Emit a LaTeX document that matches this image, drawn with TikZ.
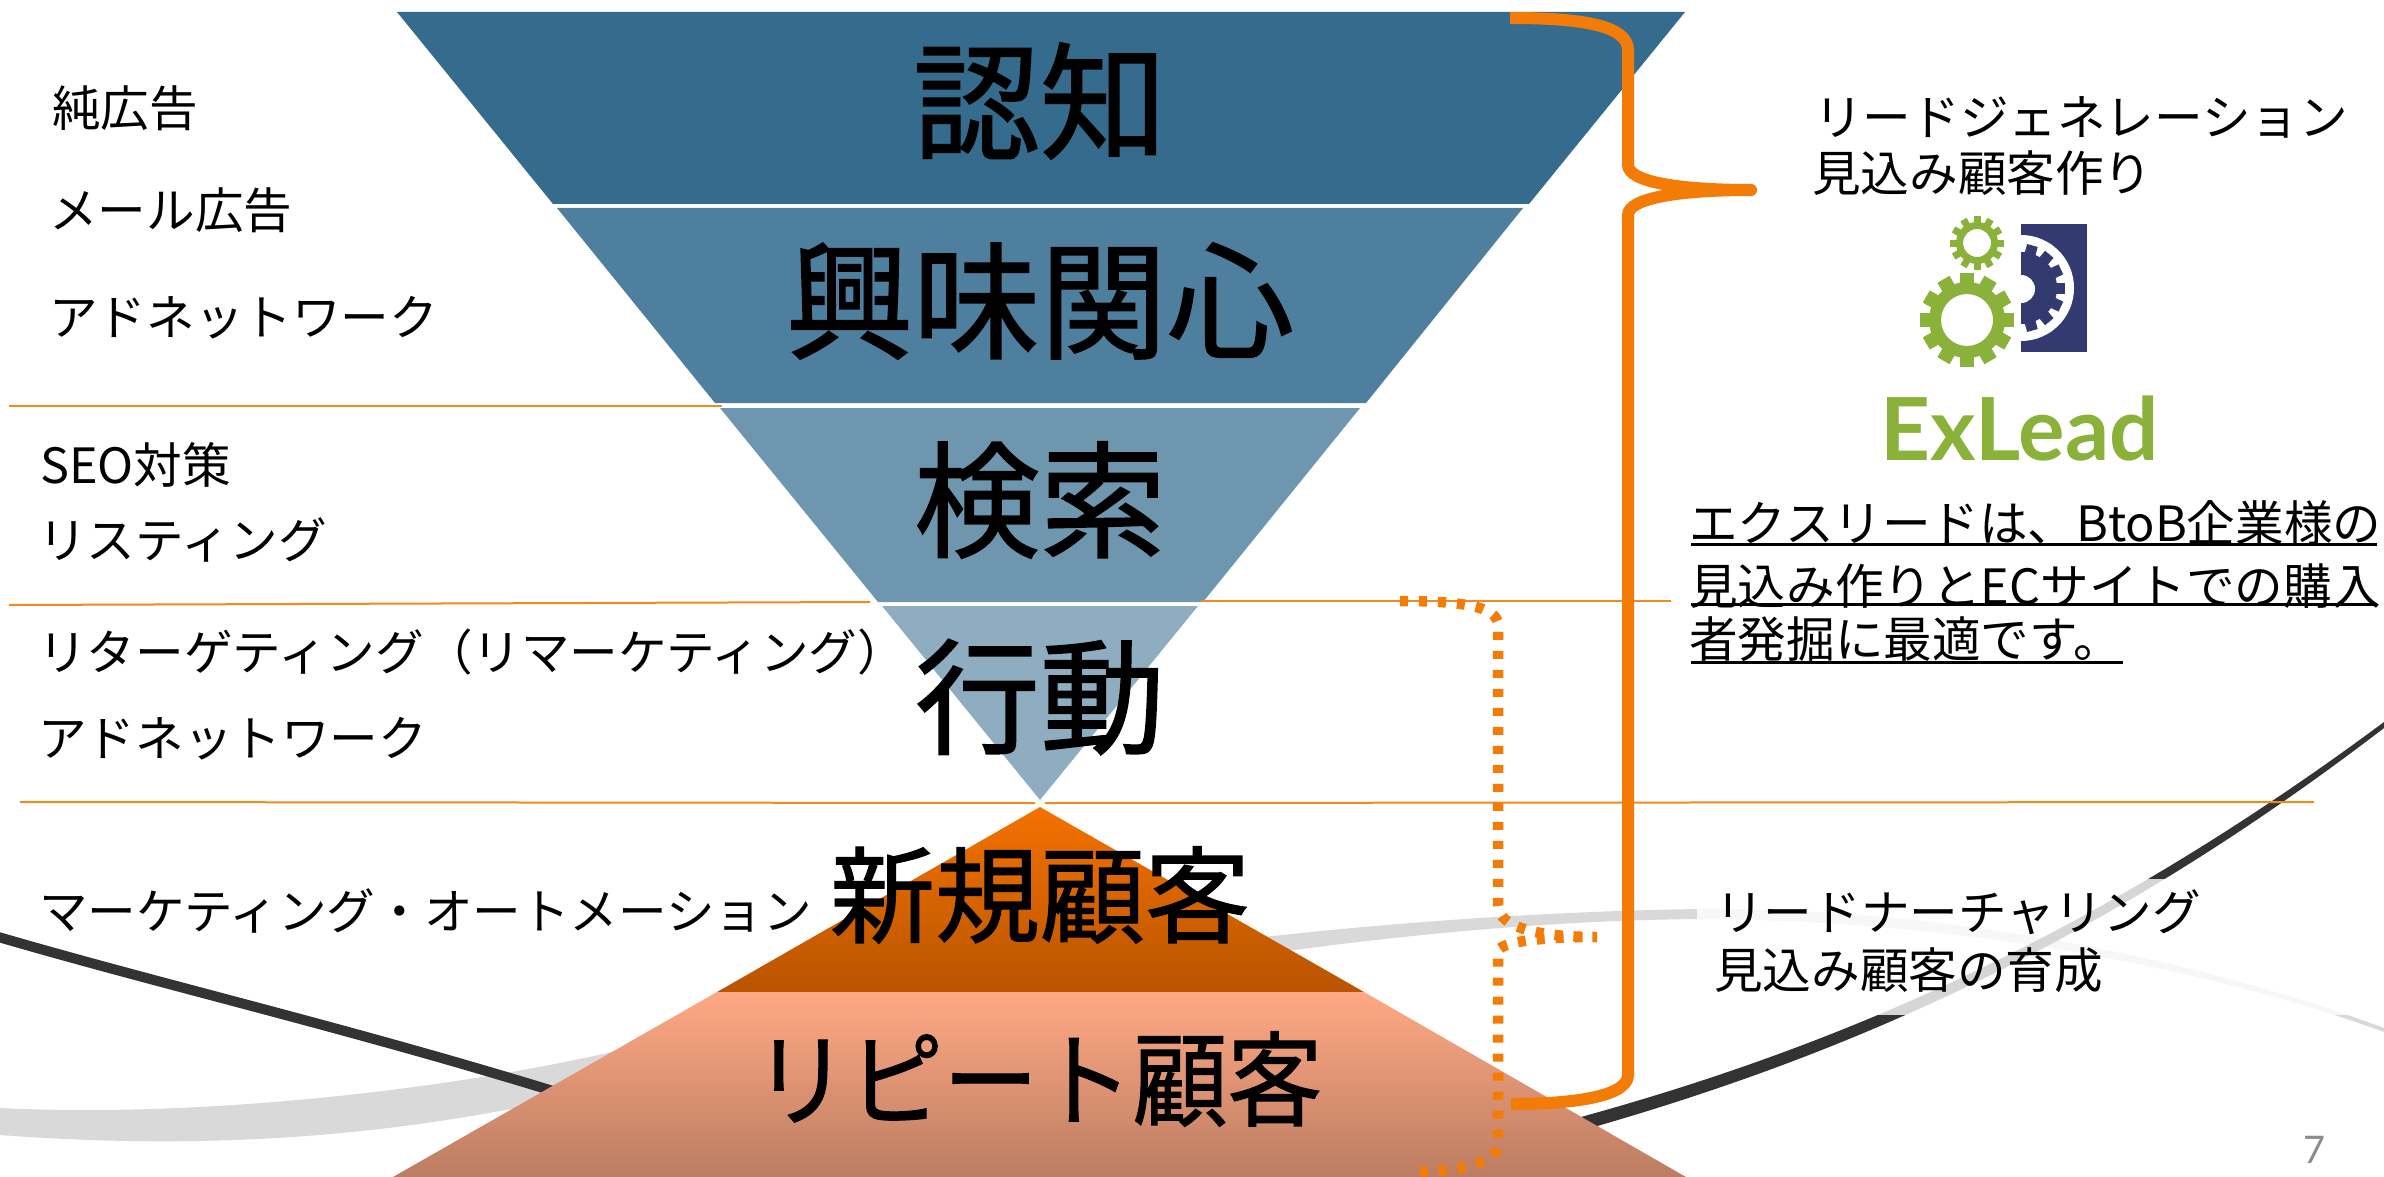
\documentclass[tikz,border=0pt]{standalone}
\usepackage{fontspec}
\setmainfont{Noto Sans CJK JP}
\newfontfamily\latfont{Lato}
\newfontfamily\titlefont[FakeBold=1.2]{Noto Sans CJK JP}
\definecolor{band1}{HTML}{356B8C}
\definecolor{band2}{HTML}{4F7F9E}
\definecolor{band3}{HTML}{6E96AF}
\definecolor{band4}{HTML}{8FADC1}
\definecolor{orline}{HTML}{F28A1E}
\definecolor{orbrace}{HTML}{F27C05}
\definecolor{pyrtop}{HTML}{F37200}
\definecolor{pyrmid}{HTML}{C75C00}
\definecolor{pyrbot}{HTML}{B95400}
\definecolor{trtop}{HTML}{FFA984}
\definecolor{trbot}{HTML}{BC7D62}
\definecolor{logogreen}{HTML}{8AB13A}
\definecolor{logonavy}{HTML}{333A70}
\definecolor{swdark}{HTML}{333333}
\definecolor{swlight}{HTML}{D9D9D9}
\tikzset{
  lbl/.style={anchor=west,inner sep=0pt,font=\fontsize{48.6}{48.6}\selectfont,text=black},
  bigt/.style={anchor=center,inner sep=0pt,text=black},
  thinline/.style={draw=orline,line width=2pt},
  uline/.style={draw=black,line width=3pt},
  bracesolid/.style={draw=orbrace,line width=12pt,line join=round},
  bracedot/.style={draw=orbrace,line width=10.5pt,dash pattern=on 8pt off 11pt},
}
\begin{document}
\begin{tikzpicture}[x=1pt,y=-1pt]
\useasboundingbox (0,0) rectangle (2384,1177);
\clip (0,0) rectangle (2384,1177);
% background swooshes
\fill[swlight] (0,1108) .. controls (200,1118) and (450,1090) .. (620,1050) .. controls (900,980) and (1300,915) .. (1700,909) .. controls (1950,907) and (2200,960) .. (2384,1028) -- (2384,1032) .. controls (2200,965) and (1950,920) .. (1700,919) .. controls (1350,922) and (950,1000) .. (620,1085) .. controls (400,1140) and (200,1150) .. (0,1135) -- cycle;
\draw[swdark,line width=10pt] (-5,936) .. controls (180,990) and (380,1035) .. (620,1112);
\fill[swdark] (1540,1128) .. controls (1800,1060) and (2070,955) .. (2384,722) -- (2384,728) .. controls (2075,965) and (1800,1072) .. (1540,1142) -- cycle;
\fill[white,opacity=.8] (1697,879) rectangle (2384,1015);
% funnel
\fill[band1] (397,12) -- (1685,12) -- (1529,204) -- (553,204) -- cycle;
\fill[band2] (557,208) -- (1523,208) -- (1366,403) -- (715,403) -- cycle;
\fill[band3] (720,408) -- (1360,408) -- (1203,602) -- (878,602) -- cycle;
\fill[band4] (882,606) -- (1198,606) -- (1040,800) -- cycle;
% lower pyramid
\shade[top color=pyrtop,middle color=pyrmid,bottom color=pyrbot] (1040,807) -- (1364,992) -- (717,992) -- cycle;
\shade[top color=trtop,bottom color=trbot] (717,992) -- (1364,992) -- (1686,1177) -- (393,1177) -- cycle;
% thin orange rules
\coordinate (r1a) at (9,406); \coordinate (r1b) at (722,406);
\coordinate (r2a) at (9,605); \coordinate (r2b) at (870,602);
\coordinate (r3a) at (1201,601); \coordinate (r3b) at (1671,601);
\coordinate (r4a) at (20,802); \coordinate (r4b) at (1035,803);
\coordinate (r5a) at (1045,803); \coordinate (r5b) at (2314,802);
\draw[thinline] (r1a) -- (r1b);
\draw[thinline] (r2a) -- (r2b);
\draw[thinline] (r3a) -- (r3b);
\draw[thinline] (r4a) -- (r4b);
\draw[thinline] (r5a) -- (r5b);
% braces
\draw[bracedot] (1400,601) .. controls (1460,601) and (1498,606) .. (1498,625) -- (1498,905) .. controls (1498,928) and (1540,937) .. (1597,937) .. controls (1540,937) and (1498,942) .. (1498,952) -- (1498,1145) .. controls (1498,1162) and (1460,1172) .. (1410,1172);
\draw[bracesolid] (1510,18) .. controls (1580,18) and (1628,25) .. (1628,50) -- (1628,165) .. controls (1628,182) and (1680,190) .. (1751,190) .. controls (1680,190) and (1628,198) .. (1628,215) -- (1628,1075) .. controls (1628,1095) and (1580,1104) .. (1511,1104);
% big titles
\node[bigt,font=\titlefont\fontsize{127}{127}\selectfont] (t1) at (1040,101) {認知};
\node[bigt,font=\titlefont\fontsize{127}{127}\selectfont] (t2) at (1040,301) {興味関心};
\node[bigt,font=\titlefont\fontsize{126}{126}\selectfont] (t3) at (1040,500) {検索};
\node[bigt,font=\titlefont\fontsize{125}{125}\selectfont] (t4) at (1040,697) {行動};
\node[bigt,font=\titlefont\fontsize{105}{105}\selectfont] (t5) at (1040,895) {新規顧客};
\node[bigt,xscale=.92,font=\titlefont\fontsize{103}{103}\selectfont] (t6) at (1038,1079) {リピート顧客};
% left labels
\node[lbl] (l1) at (52,108) {純広告};
\node[lbl] (l2) at (49,210) {メール広告};
\node[lbl] (l3) at (49,318) {アドネットワーク};
\node[lbl] (l4) at (40,465) {SEO対策};
\node[lbl] (l5) at (38,540) {リスティング};
\node[lbl] (l6) at (38,652) {リターゲティング（リマーケティング）};
\node[lbl] (l7) at (38,739) {アドネットワーク};
\node[lbl] (l8) at (39,911) {マーケティング・オートメーション};
% right labels
\node[lbl] (r1) at (1814,117) {リードジェネレーション};
\node[lbl] (r2) at (1812,173) {見込み顧客作り};
\node[lbl] (r3) at (1689,523) {エクスリードは、BtoB企業様の};
\node[lbl] (r4) at (1689,586) {見込み作りとECサイトでの購入};
\node[lbl] (r5) at (1689,639) {者発掘に最適です。};
\draw[uline] (1691,544) -- (2377,544);
\draw[uline] (1691,604) -- (2377,604);
\draw[uline] (1691,662) -- (2123,662);
\node[lbl] (r6) at (1715,912) {リードナーチャリング};
\node[lbl] (r7) at (1714,970) {見込み顧客の育成};
\node[anchor=center,inner sep=0pt,text=black!45,font=\latfont\fontsize{38}{38}\selectfont] (pg) at (2314,1150) {7};
% logo
\fill[logonavy] (2021,224) rectangle (2087,352);
\fill[white] (2021,235) arc[start angle=-90,end angle=90,radius=53] -- cycle;
\fill[logonavy] (2021,252) arc[start angle=-90,end angle=90,radius=36] -- cycle;
\foreach \a in {-75,-50,...,75}
  \fill[logonavy,rotate around={\a:(2021,288)}] (2050,282.5) rectangle (2065,293.5);
\fill[white] (2021,275) arc[start angle=-90,end angle=90,radius=14] -- cycle;
% big green gear
\foreach \a in {0,30,...,330}
  \fill[logogreen,rotate around={\a:(1967,320)}] (2000,313) rectangle (2014,327);
\fill[logogreen,even odd rule] (1967,320) circle[radius=38] (1967,320) circle[radius=26];
% small green gear
\foreach \a in {0,30,...,330}
  \fill[logogreen,rotate around={\a:(1977,243)}] (1994,239.5) rectangle (2004,246.5);
\fill[logogreen,even odd rule] (1977,243) circle[radius=21] (1977,243) circle[radius=14];
\node[anchor=base west,inner sep=0pt,text=logogreen,font=\latfont\bfseries\fontsize{87}{87}\selectfont] (logo) at (1880,460) {ExLead};
\end{tikzpicture}
\end{document}
